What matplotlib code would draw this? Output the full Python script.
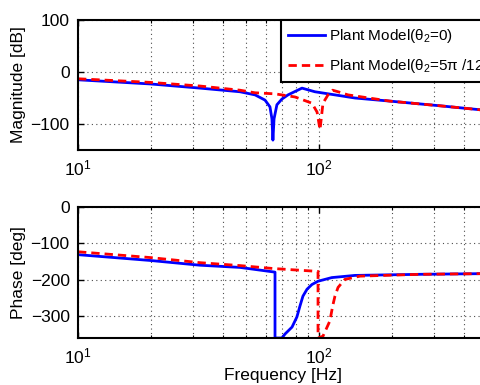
import numpy as np
import matplotlib
matplotlib.use("Agg")
import matplotlib.pyplot as plt
from matplotlib.ticker import LogLocator, FixedLocator, NullFormatter

plt.rcParams['font.family'] = ['Liberation Sans', 'DejaVu Sans']
plt.rcParams['mathtext.fontset'] = 'custom'
plt.rcParams['mathtext.rm'] = 'Liberation Sans'
plt.rcParams['mathtext.it'] = 'Liberation Sans:italic'

# ---- data ----
freq_mag_blue = [10, 20, 32.1, 47, 54.3, 59.7, 62.6, 63.8, 64.4, 65.1, 66.9, 70.2,
                 74.4, 85, 96.2, 116.5, 141, 197, 318, 500]
mag_blue = [-15, -23, -31, -38, -44, -54, -67, -90, -131, -90, -63, -52,
            -44, -31, -38, -44, -50, -56, -65, -74]

freq_mag_red = [10, 20, 32.1, 47, 54.3, 65.7, 79.5, 93.5, 98.2, 101, 103.9, 109,
                114, 120, 132, 197, 318, 500]
mag_red = [-13, -20, -27, -35, -40, -42, -48, -60, -77, -111, -60, -44,
           -35, -38, -44, -56, -65, -74]

freq_ph_blue = [10, 20, 32.1, 47, 65.7, 65.7, 70.2, 72.3, 77.3, 81, 83.4, 85.8,
                89.2, 93.5, 99.1, 113, 141, 262, 500]
ph_blue = [-131, -147, -160, -166, -179, -360, -360, -349, -330, -302, -272, -245,
           -226, -213, -204, -194, -188, -185, -183]

freq_ph_red = [10, 20, 32.1, 47, 64.4, 99.1, 99.1, 103.9, 111, 114, 116.5, 120,
               128, 148, 262, 500]
ph_red = [-123, -139, -153, -161, -169, -177, -360, -355, -313, -272, -245, -221,
          -199, -190, -185, -183]

labels = ['Plant Model(θ$_2$=0)', 'Plant Model(θ$_2$=5π /12)']

# ---- figure ----
W, H = 480, 385
fig = plt.figure(figsize=(W / 100, H / 100), dpi=100)
left = 78 / W
width = 409.4 / W
ax1 = fig.add_axes([left, 1 - 150 / H, width, 130 / H])
ax2 = fig.add_axes([left, 1 - 338 / H, width, 131 / H])

lw = 2.0
dash = (3.0, 1.8)
l1, = ax1.semilogx(freq_mag_blue, mag_blue, color='#0000ff', lw=lw)
l2, = ax1.semilogx(freq_mag_red, mag_red, color='#ff0000', lw=lw, dashes=dash)
ax2.semilogx(freq_ph_blue, ph_blue, color='#0000ff', lw=lw)
ax2.semilogx(freq_ph_red, ph_red, color='#ff0000', lw=lw, dashes=dash)

ax1.set_ylim(-150, 100)
ax1.set_yticks([-100, 0, 100])
ax2.set_ylim(-360, 0)
ax2.set_yticks([-300, -200, -100, 0])

for ax in (ax1, ax2):
    ax.set_xlim(10, 500)
    ax.xaxis.set_major_locator(FixedLocator([10, 100]))
    ax.xaxis.set_minor_locator(LogLocator(base=10, subs=np.arange(2, 10)))
    ax.xaxis.set_minor_formatter(NullFormatter())
    ax.grid(True, which='both', axis='x', color='0.3', ls=(0, (1, 3)), lw=0.8)
    ax.grid(True, which='major', axis='y', color='0.3', ls=(0, (1, 3)), lw=0.8)
    ax.tick_params(which='both', direction='in', top=True, right=True,
                   labelsize=12.5, colors='black', pad=6)
    ax.tick_params(which='major', length=4, width=1)
    ax.tick_params(which='minor', length=2, width=0.8)
    for s in ax.spines.values():
        s.set_linewidth(1.5)

ax1.set_ylabel('Magnitude [dB]', fontsize=12.5)
ax2.set_ylabel('Phase [deg]', fontsize=12.5)
ax2.set_xlabel('Frequency [Hz]', fontsize=12.5)
ax1.yaxis.set_label_coords((26 - 78) / 409.4, 0.5)
ax2.yaxis.set_label_coords((26 - 78) / 409.4, 0.5)
ax2.xaxis.set_label_coords(0.5, -(368 - 338) / 131)

leg = ax1.legend([l1, l2], labels, loc='upper left',
                 bbox_to_anchor=(281 / W, 1 - 20 / H), bbox_transform=fig.transFigure,
                 fontsize=11, frameon=True, fancybox=False, borderaxespad=0,
                 borderpad=0.45, labelspacing=0.8, handlelength=2.4, handletextpad=0.3)
leg.get_frame().set_edgecolor('black')
leg.get_frame().set_linewidth(1.5)
leg.get_frame().set_alpha(1)

fig.savefig('out.png', dpi=100)
